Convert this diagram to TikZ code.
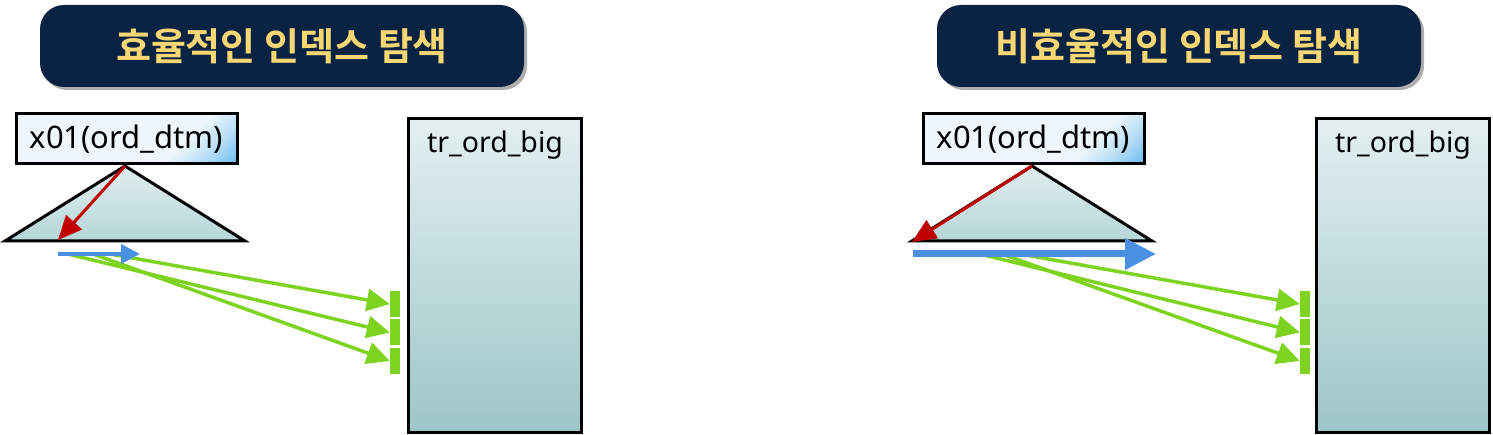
\documentclass[tikz,border=0pt]{standalone}
\usepackage{fontspec}
\setmainfont{Noto Sans}
\newfontfamily\kr{Noto Sans CJK KR}[BoldFont={Noto Sans CJK KR Bold}]
\usetikzlibrary{arrows.meta,shadows}
\definecolor{navy}{HTML}{0B2343}
\definecolor{titleyel}{HTML}{F7D774}
\definecolor{grn}{HTML}{7ED321}
\definecolor{blu}{HTML}{4A90E2}
\definecolor{rd}{HTML}{C00000}
\definecolor{tritop}{HTML}{E2EEEF}
\definecolor{tribot}{HTML}{B5D6D7}
\definecolor{rtop}{HTML}{E4EFF1}
\definecolor{rbot}{HTML}{9CC6C8}
\definecolor{ixa}{HTML}{EEF6FC}
\definecolor{ixb}{HTML}{6FBDF0}
\pgfdeclareverticalshading{ixshade}{100bp}{color(0bp)=(ixb); color(15bp)=(ixb); color(24bp)=(ixb!45!ixa); color(34bp)=(ixa); color(100bp)=(ixa)}
\tikzset{
  titlebox/.style={draw=none, fill=navy, rounded corners=24pt, minimum width=484pt, minimum height=82pt,
     text=titleyel, font=\kr\bfseries\fontsize{38}{42}\selectfont, inner sep=0pt,
     drop shadow={shadow xshift=3pt, shadow yshift=-3pt, opacity=0.45, fill=black!70}},
  idxbox/.style={draw=black, line width=3pt, minimum width=221pt, minimum height=50pt, inner sep=0pt,
     shading=ixshade, shading angle=45, font=\fontsize{31}{34}\selectfont},
  tablebox/.style={draw=black, line width=3pt, top color=rtop, bottom color=rbot, minimum width=173pt,
     minimum height=313pt, inner sep=0pt},
  tablelbl/.style={font=\fontsize{28.5}{32}\selectfont, anchor=center},
  tri/.style={draw=black, line width=3pt, top color=tritop, bottom color=tribot},
  bar/.style={fill=grn, draw=none, minimum width=10pt, minimum height=26pt, inner sep=0pt},
  redarr/.style={draw=rd, line width=3pt, -{Triangle[length=24pt,width=21pt]}},
  grnarr/.style={draw=grn, line width=3.5pt, -{Triangle[length=23pt,width=22pt]}},
  bluthin/.style={draw=blu, line width=3.5pt, -{Triangle[length=19pt,width=19pt]}},
  bluthick/.style={draw=blu, line width=7pt, -{Triangle[length=31pt,width=30pt]}},
}
\begin{document}
\begin{tikzpicture}[x=1pt,y=-1pt]
\useasboundingbox (0,0) rectangle (1493,435);

% ================= left panel =================
\node[titlebox] (t1) at (282,46) {효율적인 인덱스 탐색};

\path[tri] (5,241) -- (125,166) -- (245,241) -- cycle;
\coordinate (apex1) at (125,166);
\coordinate (base1) at (58,240);
\node[idxbox] (ix1) at (126.5,139) {x01(ord\_dtm)};

\node[tablebox] (tb1) at (495,275.5) {};
\node[tablelbl] (tl1) at (495,145) {tr\_ord\_big};

\node[bar] (b11) at (395,304) {};
\node[bar] (b12) at (395,332.5) {};
\node[bar] (b13) at (395,361) {};

\coordinate (bs1) at (58,254);
\coordinate (be1) at (140,254);
\coordinate (g11) at (110,254);
\coordinate (g12) at (68,254);
\coordinate (g13) at (93,254);

\draw[grnarr] (g11) -- (b11.west);
\draw[grnarr] (g12) -- (b12.west);
\draw[grnarr] (g13) -- (b13.west);
\draw[bluthin] (bs1) -- (be1);
\draw[redarr] (apex1) -- (base1);

% ================= right panel =================
\node[titlebox] (t2) at (1179,46) {비효율적인 인덱스 탐색};

\path[tri] (912,241) -- (1032,166) -- (1152,241) -- cycle;
\coordinate (apex2) at (1032,166);
\coordinate (base2) at (912,242);
\node[idxbox] (ix2) at (1033.5,139) {x01(ord\_dtm)};

\node[tablebox] (tb2) at (1403,275.5) {};
\node[tablelbl] (tl2) at (1403,145) {tr\_ord\_big};

\node[bar] (b21) at (1305,304) {};
\node[bar] (b22) at (1305,332.5) {};
\node[bar] (b23) at (1305,361) {};

\coordinate (bs2) at (913,254);
\coordinate (be2) at (1156,254);
\coordinate (g21) at (1020,254);
\coordinate (g22) at (980,254);
\coordinate (g23) at (1002,254);

\draw[grnarr] (g21) -- (b21.west);
\draw[grnarr] (g22) -- (b22.west);
\draw[grnarr] (g23) -- (b23.west);
\draw[bluthick] (bs2) -- (be2);
\draw[redarr] (apex2) -- (base2);
\end{tikzpicture}
\end{document}
